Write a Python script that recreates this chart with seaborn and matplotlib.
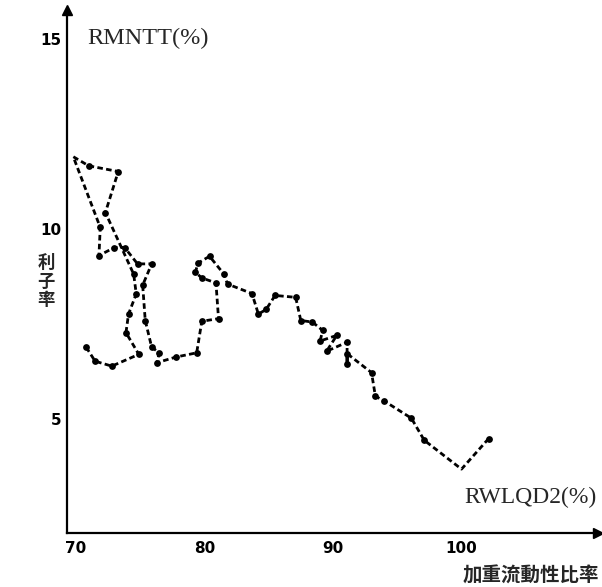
import matplotlib
matplotlib.use("Agg")
import matplotlib.pyplot as plt
import seaborn as sns
import pandas as pd

# RWLQD2 (%) - weighted liquidity ratio, in time order
rwlqd2 = [70.8, 71.5, 72.8, 74.9, 73.9, 74.1, 74.7, 74.5, 72.3, 73.3, 71.0, 69.8,
          71.9, 71.8, 73.0, 73.8, 74.8, 75.9, 75.2, 75.4, 75.9, 76.5, 76.3, 77.8,
          79.4, 79.8, 81.1, 80.9, 79.8, 79.3, 79.5, 80.4, 81.5, 81.8, 83.7, 84.2,
          84.8, 85.5, 87.1, 87.5, 88.4, 89.2, 89.0, 90.3, 89.5, 91.1, 91.1, 91.1,
          93.0, 93.3, 94.0, 96.1, 97.1, 100.0, 102.1]
# RMNTT (%) - interest rate
rmntt = [6.89, 6.52, 6.39, 6.70, 7.27, 7.76, 8.29, 8.81, 10.43, 11.51, 11.66, 11.90,
         10.04, 9.30, 9.51, 9.51, 9.08, 9.08, 8.52, 7.59, 6.89, 6.74, 6.48, 6.63,
         6.74, 7.57, 7.64, 8.58, 8.71, 8.86, 9.10, 9.28, 8.82, 8.55, 8.30, 7.76,
         7.88, 8.25, 8.20, 7.59, 7.55, 7.33, 7.05, 7.20, 6.78, 7.02, 6.45, 6.72,
         6.22, 5.60, 5.47, 5.02, 4.44, 3.68, 4.48]
has_dot = [True] * len(rwlqd2)
has_dot[11] = False
has_dot[53] = False

x_ticks = [70, 80, 90, 100]
y_ticks = [5, 10, 15]

df = pd.DataFrame({"x": rwlqd2, "y": rmntt, "dot": has_dot})

sns.set_style("white")
plt.rcParams['font.family'] = ['DejaVu Sans']

fig = plt.figure(figsize=(6.02, 5.87), dpi=100)
ax = fig.add_axes([0.111, 0.092, 0.882, 0.891])

sns.lineplot(data=df, x="x", y="y", sort=False, estimator=None, ax=ax,
             color="black", linewidth=2.0, linestyle=(0, (2.0, 1.2)))
sns.scatterplot(data=df[df["dot"]], x="x", y="y", ax=ax, color="black",
                s=24, edgecolor="black", linewidth=0, zorder=3)

ax.set_xlim(69.3, 110.6)
ax.set_ylim(2.0, 15.76)
ax.set_xticks(x_ticks)
ax.set_yticks(y_ticks)
ax.set_xticklabels([str(v) for v in x_ticks], fontsize=11, fontweight="bold")
ax.set_yticklabels([str(v) for v in y_ticks], fontsize=11, fontweight="bold")
ax.tick_params(axis="both", direction="in", length=7, width=1.3, colors="black")
ax.tick_params(axis="x", pad=6)
ax.tick_params(axis="y", pad=4)
ax.set_xlabel("")
ax.set_ylabel("")

for s in ["top", "right"]:
    ax.spines[s].set_visible(False)
for s in ["left", "bottom"]:
    ax.spines[s].set_color("black")
    ax.spines[s].set_linewidth(1.6)

# axis arrows
ax.plot(1, 0, marker=">", color="black", markersize=7,
        transform=ax.transAxes, clip_on=False)
ax.plot(0, 1, marker="^", color="black", markersize=7,
        transform=ax.transAxes, clip_on=False)

serif = ["Liberation Serif", "DejaVu Serif"]
ax.text(70.9, 15.0, "RMNTT(%)", family=serif, fontsize=17.5, va="center", ha="left")
ax.text(110.5, 5.0 - (497 - 418) / 38.1, "RWLQD2(%)", family=serif, fontsize=17,
        va="center", ha="right")

cjk = ["Noto Sans CJK TC", "DejaVu Sans"]
fig.text(0.995, 0.003, "加重流動性比率", family=cjk, fontsize=14,
         fontweight="bold", ha="right", va="bottom")
fig.text(0.077, 0.52, "利\n子\n率", family=cjk, fontsize=12.5, fontweight="bold",
         ha="center", va="center", linespacing=1.05)

fig.savefig("out.png", dpi=100, facecolor="white")
